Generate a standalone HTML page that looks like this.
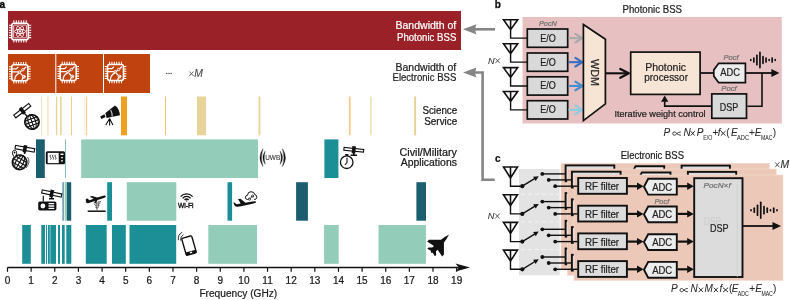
<!DOCTYPE html>
<html><head><meta charset="utf-8">
<style>
html,body{margin:0;padding:0;background:#fff;width:790px;height:300px;overflow:hidden}
svg{display:block;font-family:"Liberation Sans",sans-serif;will-change:transform}
</style></head><body>
<svg width="790" height="300" viewBox="0 0 790 300">
<defs>
<marker id="ah" markerWidth="6" markerHeight="6" refX="5" refY="3" orient="auto" markerUnits="strokeWidth"><path d="M0,0 L6,3 L0,6 L1.5,3 Z" fill="#000"/></marker>
</defs>
<!-- PANEL A -->
<text x="-0.4" y="7.8" font-size="10" font-weight="bold" stroke="#111" stroke-width="0.35">a</text>
<rect x="8" y="11" width="453" height="39" fill="#9a2128"/>
<rect x="8" y="54" width="47.3" height="39" fill="#c0420f"/>
<rect x="56.3" y="54" width="46.7" height="39" fill="#c0420f"/>
<rect x="104" y="54" width="46" height="39" fill="#c0420f"/>
<g font-size="10.5" text-anchor="end" stroke="#111" stroke-width="0.22">
<text x="456.3" y="28.8" fill="#fff" textLength="60.8" lengthAdjust="spacingAndGlyphs" stroke="#fff" stroke-width="0.22">Bandwidth of</text>
<text x="456.3" y="40.5" fill="#fff" textLength="59.3" lengthAdjust="spacingAndGlyphs" stroke="#fff" stroke-width="0.22">Photonic BSS</text>
<text x="456.3" y="70.5" fill="#222" textLength="60.8" lengthAdjust="spacingAndGlyphs" stroke="#222" stroke-width="0.22">Bandwidth of</text>
<text x="456.3" y="81.3" fill="#222" textLength="63.8" lengthAdjust="spacingAndGlyphs" stroke="#222" stroke-width="0.22">Electronic BSS</text>
</g>
<g font-size="10" text-anchor="end" fill="#222" stroke="#222" stroke-width="0.22">
<text x="457.2" y="113.6" textLength="34.8" lengthAdjust="spacingAndGlyphs" stroke="#111" stroke-width="0.22">Science</text>
<text x="457.2" y="125" textLength="32.9" lengthAdjust="spacingAndGlyphs" stroke="#111" stroke-width="0.22">Service</text>
<text x="456.9" y="156" textLength="57.4" lengthAdjust="spacingAndGlyphs" stroke="#111" stroke-width="0.22">Civil/Military</text>
<text x="456.9" y="166.4" textLength="56.2" lengthAdjust="spacingAndGlyphs" stroke="#111" stroke-width="0.22">Applications</text>
</g>
<g fill="#333"><circle cx="166.8" cy="73.4" r="0.7"/><circle cx="169" cy="73.4" r="0.7"/><circle cx="171.2" cy="73.4" r="0.7"/></g>
<path d="M189.3,71.5 L193.5,76 M193.5,71.5 L189.3,76" stroke="#555" stroke-width="0.9"/><text x="194.3" y="76.7" font-size="10.3" fill="#444" stroke="#444" stroke-width="0.1" font-style="italic" textLength="8.6" lengthAdjust="spacingAndGlyphs">M</text>

<!-- science row -->
<g>
<rect x="41" y="96.5" width="0.8" height="38.8" fill="#e8dcb0"/>
<rect x="47.4" y="96.5" width="1.1" height="38.8" fill="#fbd6aa"/>
<rect x="55.9" y="96.5" width="1.4" height="38.8" fill="#e6d49a"/>
<rect x="60.2" y="96.5" width="1.4" height="38.8" fill="#e2d090"/>
<rect x="71" y="96.5" width="0.8" height="38.8" fill="#f4c070"/>
<rect x="84.2" y="96.5" width="0.8" height="38.8" fill="#fdf0d8"/>
<rect x="86" y="96.5" width="1.1" height="38.8" fill="#f8cf8c"/>
<rect x="121" y="96.5" width="6" height="38.8" fill="#f0a020"/>
<rect x="165" y="96.5" width="0.8" height="38.8" fill="#f5b041"/>
<rect x="197" y="96.5" width="9" height="38.8" fill="#e6d49a"/>
<rect x="258.6" y="96.5" width="1.8" height="38.8" fill="#e6d49a"/>
<rect x="349" y="96.5" width="1.6" height="38.8" fill="#f7c880"/>
<rect x="370.2" y="96.5" width="1.4" height="38.8" fill="#eddcaa"/>
<rect x="414.2" y="96.5" width="1.9" height="38.8" fill="#e4d194"/>
</g>
<!-- row 4 -->
<g>
<rect x="36" y="139.4" width="8.8" height="38.6" fill="#1b5e70"/>
<rect x="65.3" y="139.4" width="0.7" height="38.6" fill="#5aa0b0"/>
<rect x="81.2" y="139.4" width="176.8" height="38.6" fill="#93cdb9"/>
<rect x="324.4" y="139.4" width="14" height="38.6" fill="#1b8f95"/>
</g>
<!-- row 5 -->
<g>
<rect x="62.4" y="182.2" width="1.4" height="38.5" fill="#5b90a6"/>
<rect x="64.7" y="182.2" width="2.3" height="38.5" fill="#93cdb9"/>
<rect x="67" y="182.2" width="4.2" height="38.5" fill="#1b5e70"/>
<rect x="107.2" y="182.2" width="4.8" height="38.5" fill="#1b8f95"/>
<rect x="126.8" y="182.2" width="49.5" height="38.5" fill="#93cdb9"/>
<rect x="227.5" y="182.2" width="4.6" height="38.5" fill="#1b8f95"/>
<rect x="296.1" y="182.2" width="11.8" height="38.5" fill="#1b5e70"/>
<rect x="416.4" y="182.2" width="9.6" height="38.5" fill="#1b5e70"/>
</g>
<!-- row 6 -->
<g fill="#1b8f95">
<rect x="22.2" y="225" width="8.6" height="38.8"/>
<rect x="41.3" y="225" width="3.7" height="38.8"/>
<rect x="46" y="225" width="1" height="38.8"/>
<rect x="47.9" y="225" width="1.9" height="38.8"/>
<rect x="50.3" y="225" width="5.7" height="38.8"/>
<rect x="58" y="225" width="2" height="38.8"/>
<rect x="62" y="225" width="2.7" height="38.8"/>
<rect x="66.3" y="225" width="5" height="38.8"/>
<rect x="85.8" y="225" width="20.9" height="38.8"/>
<rect x="112" y="225" width="13.8" height="38.8"/>
<rect x="129.5" y="225" width="46.7" height="38.8"/>
</g>
<g fill="#93cdb9">
<rect x="208.3" y="225" width="48.7" height="38.8"/>
<rect x="324.1" y="225" width="14.6" height="38.8"/>
<rect x="378.5" y="225" width="47.4" height="38.8"/>
</g>
<!-- axis -->
<g stroke="#111" stroke-width="1.3">
<line x1="7.5" y1="267.5" x2="460" y2="267.5" stroke-width="1.55"/>

</g>
<path d="M470,267.5 L455.5,263.5 L459,267.5 L455.5,271.5 Z" fill="#111"/>
<g id="tickg" stroke="#111" stroke-width="1.2"><line x1="7.50" y1="267.5" x2="7.50" y2="271.8"/><line x1="31.14" y1="267.5" x2="31.14" y2="271.8"/><line x1="54.78" y1="267.5" x2="54.78" y2="271.8"/><line x1="78.42" y1="267.5" x2="78.42" y2="271.8"/><line x1="102.06" y1="267.5" x2="102.06" y2="271.8"/><line x1="125.70" y1="267.5" x2="125.70" y2="271.8"/><line x1="149.34" y1="267.5" x2="149.34" y2="271.8"/><line x1="172.98" y1="267.5" x2="172.98" y2="271.8"/><line x1="196.62" y1="267.5" x2="196.62" y2="271.8"/><line x1="220.26" y1="267.5" x2="220.26" y2="271.8"/><line x1="243.90" y1="267.5" x2="243.90" y2="271.8"/><line x1="267.54" y1="267.5" x2="267.54" y2="271.8"/><line x1="291.18" y1="267.5" x2="291.18" y2="271.8"/><line x1="314.82" y1="267.5" x2="314.82" y2="271.8"/><line x1="338.46" y1="267.5" x2="338.46" y2="271.8"/><line x1="362.10" y1="267.5" x2="362.10" y2="271.8"/><line x1="385.74" y1="267.5" x2="385.74" y2="271.8"/><line x1="409.38" y1="267.5" x2="409.38" y2="271.8"/><line x1="433.02" y1="267.5" x2="433.02" y2="271.8"/><line x1="456.66" y1="267.5" x2="456.66" y2="271.8"/></g>
<g id="nums" font-size="10" fill="#222" stroke="#222" stroke-width="0.05" text-anchor="middle"><text x="7.50" y="283.6" stroke="#111" stroke-width="0.22">0</text><text x="31.14" y="283.6" stroke="#111" stroke-width="0.22">1</text><text x="54.78" y="283.6" stroke="#111" stroke-width="0.22">2</text><text x="78.42" y="283.6" stroke="#111" stroke-width="0.22">3</text><text x="102.06" y="283.6" stroke="#111" stroke-width="0.22">4</text><text x="125.70" y="283.6" stroke="#111" stroke-width="0.22">5</text><text x="149.34" y="283.6" stroke="#111" stroke-width="0.22">6</text><text x="172.98" y="283.6" stroke="#111" stroke-width="0.22">7</text><text x="196.62" y="283.6" stroke="#111" stroke-width="0.22">8</text><text x="220.26" y="283.6" stroke="#111" stroke-width="0.22">9</text><text x="243.90" y="283.6" stroke="#111" stroke-width="0.22">10</text><text x="267.54" y="283.6" stroke="#111" stroke-width="0.22">11</text><text x="291.18" y="283.6" stroke="#111" stroke-width="0.22">12</text><text x="314.82" y="283.6" stroke="#111" stroke-width="0.22">13</text><text x="338.46" y="283.6" stroke="#111" stroke-width="0.22">14</text><text x="362.10" y="283.6" stroke="#111" stroke-width="0.22">15</text><text x="385.74" y="283.6" stroke="#111" stroke-width="0.22">16</text><text x="409.38" y="283.6" stroke="#111" stroke-width="0.22">17</text><text x="433.02" y="283.6" stroke="#111" stroke-width="0.22">18</text><text x="456.66" y="283.6" stroke="#111" stroke-width="0.22">19</text></g>
<text x="199.4" y="297" font-size="10" fill="#222" textLength="77.8" lengthAdjust="spacingAndGlyphs" stroke="#222" stroke-width="0.22">Frequency (GHz)</text>


<!-- ICONS -->
<rect x="11.8" y="23.2" width="16.5" height="16.5" rx="2.27" fill="none" stroke="#fff" stroke-width="1.6"/><path d="M13.86,20.31v2.89M13.86,39.70v2.89M8.91,25.26h2.89M28.30,25.26h2.89M16.34,20.31v2.89M16.34,39.70v2.89M8.91,27.74h2.89M28.30,27.74h2.89M18.81,20.31v2.89M18.81,39.70v2.89M8.91,30.21h2.89M28.30,30.21h2.89M21.29,20.31v2.89M21.29,39.70v2.89M8.91,32.69h2.89M28.30,32.69h2.89M23.76,20.31v2.89M23.76,39.70v2.89M8.91,35.16h2.89M28.30,35.16h2.89M26.24,20.31v2.89M26.24,39.70v2.89M8.91,37.64h2.89M28.30,37.64h2.89" stroke="#fff" stroke-width="1.05" fill="none"/><rect x="13.66" y="25.06" width="12.79" height="12.79" rx="0.8" fill="none" stroke="#fff" stroke-width="0.8"/><ellipse cx="20.05" cy="31.45" rx="5.57" ry="2.17" transform="rotate(0 20.05 31.45)" fill="none" stroke="#fff" stroke-width="0.85"/><ellipse cx="20.05" cy="31.45" rx="5.57" ry="2.17" transform="rotate(60 20.05 31.45)" fill="none" stroke="#fff" stroke-width="0.85"/><ellipse cx="20.05" cy="31.45" rx="5.57" ry="2.17" transform="rotate(120 20.05 31.45)" fill="none" stroke="#fff" stroke-width="0.85"/><circle cx="20.05" cy="31.45" r="1.13" fill="#fff"/>
<rect x="11.8" y="64.7" width="16" height="16" rx="2.20" fill="none" stroke="#fff" stroke-width="1.6"/><path d="M13.80,61.90v2.80M13.80,80.70v2.80M9.00,66.70h2.80M27.80,66.70h2.80M16.20,61.90v2.80M16.20,80.70v2.80M9.00,69.10h2.80M27.80,69.10h2.80M18.60,61.90v2.80M18.60,80.70v2.80M9.00,71.50h2.80M27.80,71.50h2.80M21.00,61.90v2.80M21.00,80.70v2.80M9.00,73.90h2.80M27.80,73.90h2.80M23.40,61.90v2.80M23.40,80.70v2.80M9.00,76.30h2.80M27.80,76.30h2.80M25.80,61.90v2.80M25.80,80.70v2.80M9.00,78.70h2.80M27.80,78.70h2.80" stroke="#fff" stroke-width="1.05" fill="none"/><path d="M12.30,68.90 L16.30,68.90 L18.30,66.90M12.30,71.90 L18.40,71.90M20.40,71.90 L21.90,70.50M23.90,68.90 L26.30,66.70M19.40,73.10 Q15.00,74.70 14.60,80.20M20.40,73.30 L22.80,75.70M22.00,80.20 Q22.30,77.20 25.30,76.20" stroke="#fff" stroke-width="1.2" fill="none"/><circle cx="19.40" cy="72.00" r="1.20" fill="none" stroke="#fff" stroke-width="1"/><circle cx="22.90" cy="69.70" r="1.20" fill="none" stroke="#fff" stroke-width="1"/><circle cx="23.90" cy="76.80" r="1.40" fill="none" stroke="#fff" stroke-width="1"/>
<rect x="60.2" y="64.5" width="16" height="16" rx="2.20" fill="none" stroke="#fff" stroke-width="1.6"/><path d="M62.20,61.70v2.80M62.20,80.50v2.80M57.40,66.50h2.80M76.20,66.50h2.80M64.60,61.70v2.80M64.60,80.50v2.80M57.40,68.90h2.80M76.20,68.90h2.80M67.00,61.70v2.80M67.00,80.50v2.80M57.40,71.30h2.80M76.20,71.30h2.80M69.40,61.70v2.80M69.40,80.50v2.80M57.40,73.70h2.80M76.20,73.70h2.80M71.80,61.70v2.80M71.80,80.50v2.80M57.40,76.10h2.80M76.20,76.10h2.80M74.20,61.70v2.80M74.20,80.50v2.80M57.40,78.50h2.80M76.20,78.50h2.80" stroke="#fff" stroke-width="1.05" fill="none"/><path d="M60.70,68.70 L64.70,68.70 L66.70,66.70M60.70,71.70 L66.80,71.70M68.80,71.70 L70.30,70.30M72.30,68.70 L74.70,66.50M67.80,72.90 Q63.40,74.50 63.00,80.00M68.80,73.10 L71.20,75.50M70.40,80.00 Q70.70,77.00 73.70,76.00" stroke="#fff" stroke-width="1.2" fill="none"/><circle cx="67.80" cy="71.80" r="1.20" fill="none" stroke="#fff" stroke-width="1"/><circle cx="71.30" cy="69.50" r="1.20" fill="none" stroke="#fff" stroke-width="1"/><circle cx="72.30" cy="76.60" r="1.40" fill="none" stroke="#fff" stroke-width="1"/>
<rect x="107.5" y="64.5" width="16" height="16" rx="2.20" fill="none" stroke="#fff" stroke-width="1.6"/><path d="M109.50,61.70v2.80M109.50,80.50v2.80M104.70,66.50h2.80M123.50,66.50h2.80M111.90,61.70v2.80M111.90,80.50v2.80M104.70,68.90h2.80M123.50,68.90h2.80M114.30,61.70v2.80M114.30,80.50v2.80M104.70,71.30h2.80M123.50,71.30h2.80M116.70,61.70v2.80M116.70,80.50v2.80M104.70,73.70h2.80M123.50,73.70h2.80M119.10,61.70v2.80M119.10,80.50v2.80M104.70,76.10h2.80M123.50,76.10h2.80M121.50,61.70v2.80M121.50,80.50v2.80M104.70,78.50h2.80M123.50,78.50h2.80" stroke="#fff" stroke-width="1.05" fill="none"/><path d="M108.00,68.70 L112.00,68.70 L114.00,66.70M108.00,71.70 L114.10,71.70M116.10,71.70 L117.60,70.30M119.60,68.70 L122.00,66.50M115.10,72.90 Q110.70,74.50 110.30,80.00M116.10,73.10 L118.50,75.50M117.70,80.00 Q118.00,77.00 121.00,76.00" stroke="#fff" stroke-width="1.2" fill="none"/><circle cx="115.10" cy="71.80" r="1.20" fill="none" stroke="#fff" stroke-width="1"/><circle cx="118.60" cy="69.50" r="1.20" fill="none" stroke="#fff" stroke-width="1"/><circle cx="119.60" cy="76.60" r="1.40" fill="none" stroke="#fff" stroke-width="1"/>
<g transform="rotate(-38 22.3 110.7)"><rect x="12.8" y="109.0" width="19" height="3.4" fill="#fff" stroke="#111" stroke-width="1.1"/><rect x="20.5" y="107.10000000000001" width="3.6" height="7.2" fill="#111"/></g>
<line x1="24" y1="113" x2="27" y2="116" stroke="#111" stroke-width="1.3"/>
<g transform="rotate(-20 32 122)"><circle cx="32" cy="122" r="7.3" fill="#fff" stroke="#111" stroke-width="1.4"/><ellipse cx="32" cy="122" rx="3.65" ry="7.3" fill="none" stroke="#111" stroke-width="1.1"/><ellipse cx="32" cy="122" rx="6.21" ry="7.3" fill="none" stroke="#111" stroke-width="0.8"/><path d="M32,114.7V129.3M24.7,122H39.3M25.43,118.72H38.57M25.43,125.28H38.57" stroke="#111" stroke-width="1.1"/></g>
<path d="M100.2,116.4 L104.4,114.2 L105.6,117 L101.4,119.1 Z" fill="#111"/>
<path d="M105.4,112.9 L115,105.6 Q119.4,108.6 120,115.3 L106.6,117.9 Z" fill="#111"/>
<path d="M110.6,109.9 Q112.4,112.6 112.2,116.6" fill="none" stroke="#fff" stroke-width="0.9"/>
<path d="M109.6,118.5 L105.8,125 M109.6,118.5 L109.6,125.5 M109.6,118.5 L112.9,125" stroke="#111" stroke-width="1.1"/>
<g transform="rotate(10 24.9 148.8)"><rect x="15.149999999999999" y="147.10000000000002" width="19.5" height="3.4" fill="#fff" stroke="#111" stroke-width="1.1"/><rect x="23.099999999999998" y="145.20000000000002" width="3.6" height="7.2" fill="#111"/></g>
<line x1="24.9" y1="150" x2="24.5" y2="154" stroke="#111" stroke-width="1.5"/>
<g transform="rotate(30 19.6 162.3)"><circle cx="19.6" cy="162.3" r="7.4" fill="#fff" stroke="#111" stroke-width="1.4"/><ellipse cx="19.6" cy="162.3" rx="3.70" ry="7.4" fill="none" stroke="#111" stroke-width="1.1"/><ellipse cx="19.6" cy="162.3" rx="6.29" ry="7.4" fill="none" stroke="#111" stroke-width="0.8"/><path d="M19.6,154.9V169.70000000000002M12.200000000000001,162.3H27.0M12.94,158.97H26.26M12.94,165.63H26.26" stroke="#111" stroke-width="1.1"/></g>
<path d="M27.5,157 Q31,162 26,168" fill="none" stroke="#111" stroke-width="0.7"/>
<path d="M14.6,157.3 C11.8,154.5 11.8,150.3 14.6,150.3 C17.4,150.3 17.4,154.5 14.6,157.3 Z" fill="#fff" stroke="#111" stroke-width="1"/><circle cx="14.6" cy="152.5" r="0.9" fill="#111"/>
<rect x="45.8" y="151.2" width="19.2" height="13" rx="1.5" fill="#111"/>
<rect x="47.7" y="152.9" width="11" height="10.2" fill="#fff"/>
<path d="M50.5,154.8 q-1.2,1.2 0,2.4 t0,2.4 M53,154.8 q-1.2,1.2 0,2.4 t0,2.4 M55.5,154.8 q-1.2,1.2 0,2.4 t0,2.4" fill="none" stroke="#111" stroke-width="0.8"/>
<rect x="60.4" y="153.5" width="3.2" height="1.6" rx="0.6" fill="#fff"/><circle cx="62" cy="157.6" r="0.9" fill="#fff"/><circle cx="62" cy="160.8" r="0.9" fill="#fff"/>
<path d="M262.90,148.8 Q257.00,157.65 262.90,166.5 Q260.00,157.65 262.90,148.8 ZM265.20,151.2 Q260.60,157.7 265.20,164.2 Q263.20,157.7 265.20,151.2 ZM282.50,148.8 Q288.40,157.65 282.50,166.5 Q285.40,157.65 282.50,148.8 ZM280.20,151.2 Q284.80,157.7 280.20,164.2 Q282.20,157.7 280.20,151.2 Z" fill="#111" stroke="#111" stroke-width="0.35"/>
<text x="272.7" y="160.4" font-size="7.2" text-anchor="middle" fill="#333" stroke="#333" stroke-width="0.1" textLength="15" lengthAdjust="spacingAndGlyphs">UWB</text>
<g transform="rotate(6 353.8 149.8)"><rect x="343.90000000000003" y="148.4" width="19.8" height="2.8" fill="#fff" stroke="#111" stroke-width="1.1"/><rect x="352.0" y="146.20000000000002" width="3.6" height="7.2" fill="#111"/></g>
<path d="M353.8,150 V155 M350.6,155.2 H357" stroke="#111" stroke-width="1.6"/>
<circle cx="346.7" cy="162.2" r="6.3" fill="#fff" stroke="#111" stroke-width="1.3"/>
<path d="M345.2,154.8 H348.4 M346.8,155 V156.2" stroke="#111" stroke-width="1.5"/>
<path d="M347,157.8 V162.5 L344.8,165" fill="none" stroke="#111" stroke-width="1.1"/>
<g transform="rotate(12 51.7 193.5)"><rect x="41.7" y="191.9" width="20" height="3.2" fill="#fff" stroke="#111" stroke-width="1.1"/><rect x="49.900000000000006" y="189.9" width="3.6" height="7.2" fill="#111"/></g>
<path d="M51.5,194 V198.6 M49,198.8 H54" stroke="#111" stroke-width="1.5"/>
<line x1="43.3" y1="195.8" x2="43.3" y2="201.5" stroke="#111" stroke-width="1.2"/>
<rect x="38.2" y="201.4" width="18.2" height="9" rx="1.6" fill="#111"/>
<circle cx="42.9" cy="206" r="2.4" fill="#fff"/>
<path d="M48.5,203.6 H54.2 M48.5,206 H54.2 M48.5,208.4 H54.2" stroke="#fff" stroke-width="1.3"/>
<path d="M0,-1.2 L0.5,-3.3 L2.3,-3.3 L3.6,-1.2 L8.2,-1.2 L5,-4.4 L7.4,-4.4 L12,-1.3 L18.2,-1.2 Q20.6,-1 20.6,0 Q20.6,1 18.2,1.2 L11.4,1.3 L9.2,3.4 L7.8,3.4 L8.6,1.3 L2.2,1.3 Q0,1.3 0,0 Z" fill="#111" transform="translate(86.3,202.4) rotate(-18)"/>
<path d="M93.8,202.6 L100.8,201.6 L94.4,204.3 L100.1,203.6 L95,205.9 L99.4,205.5 L95.5,207.5 L98.6,207.3 L96,209.1 L97.9,209" fill="none" stroke="#3a3a3a" stroke-width="0.85" stroke-dasharray="1.3,0.6"/>
<line x1="87.7" y1="211.2" x2="105.7" y2="211.2" stroke="#111" stroke-width="1.5"/>
<path d="M180.6,196.6 A8,8 0 0 1 192.6,196.6 M182.6,198.3 A5.2,5.2 0 0 1 190.6,198.3 M184.6,200 A2.5,2.5 0 0 1 188.6,200" fill="none" stroke="#111" stroke-width="1.3"/>
<circle cx="186.6" cy="200.9" r="0.6" fill="#111"/>
<text x="185.8" y="207.7" font-size="7" text-anchor="middle" fill="#111" stroke="#111" stroke-width="0.35" textLength="15.5" lengthAdjust="spacingAndGlyphs">Wi-Fi</text>
<path d="M0,-1.4 L0.8,-1.4 L3.2,0.6 L7.2,0.2 L5,-4.4 L7.5,-4.4 L12,0 L19,-0.6 Q22.8,-0.8 22.8,0.3 Q22.6,1.3 19,1.8 L6,3.2 L3.2,3.2 Q0.6,3 0,-1.4 Z" fill="#111" transform="translate(233.5,204) rotate(-6)"/>
<path d="M248.2,199.5 L247.4,199.5 Q245.2,199.3 245.4,197.2 Q245.6,195.4 247.5,195.3 Q247.6,191.8 251,191.7 Q254.4,191.7 254.8,194.6 Q257,194.9 256.8,197.5 Q256.5,199.6 254.2,199.5" fill="none" stroke="#111" stroke-width="1"/>
<path d="M249.6,199 L252.6,196" stroke="#111" stroke-width="0.8"/><circle cx="249.5" cy="199.1" r="1.1" fill="none" stroke="#111" stroke-width="0.8"/><circle cx="252.6" cy="196.1" r="1.1" fill="none" stroke="#111" stroke-width="0.8"/>
<g transform="rotate(-16 189 245.5)"><rect x="183.8" y="236.7" width="10.4" height="17.8" rx="1.4" fill="#fff" stroke="#111" stroke-width="1.4"/><rect x="183.8" y="251.3" width="10.4" height="3.2" fill="#111"/><rect x="187.8" y="252.2" width="2.4" height="1.3" fill="#fff"/></g>
<path d="M180.6,240.5 Q180.4,236.4 183.4,234.6 M178.3,240.2 Q177.8,234.5 182.2,232.3" fill="none" stroke="#111" stroke-width="0.9"/>
<path d="M0,-14.8 L1.4,-9.5 L2,-5.5 L10.6,3 L10.6,5.6 L2.6,4 L2.6,6.3 L5.4,8.8 L5.4,10.6 L1.3,9.6 L0,10.8 L-1.3,9.6 L-5.4,10.6 L-5.4,8.8 L-2.6,6.3 L-2.6,4 L-10.6,5.6 L-10.6,3 L-2,-5.5 L-1.4,-9.5 Z" fill="#111" transform="translate(438.6,245) rotate(45)"/>
<!-- PANEL B -->
<text x="494.8" y="7.9" font-size="10" fill="#111" font-weight="bold" stroke="#111" stroke-width="0.3">b</text>
<text x="622.5" y="12.5" font-size="10.5" fill="#222" textLength="59.5" lengthAdjust="spacingAndGlyphs" stroke="#222" stroke-width="0.22">Photonic BSS</text>
<rect x="522.5" y="17" width="259.3" height="106.5" fill="#e7c1c1"/>
<line x1="495" y1="29.3" x2="472" y2="29.3" stroke="#858585" stroke-width="2.6"/>
<path d="M463,29.3 L476.5,24.2 Q474,29.3 476.5,34.4 Z" fill="#858585"/>
<polyline points="494.7,179.7 482.6,179.7 482.6,72.5 472,72.5" fill="none" stroke="#858585" stroke-width="2.6"/>
<path d="M463,72.5 L476.5,67.4 Q474,72.5 476.5,77.6 Z" fill="#858585"/>
<text x="488" y="63.5" font-size="9.5" fill="#333" stroke="#333" stroke-width="0.1" font-style="italic" textLength="6.6" lengthAdjust="spacingAndGlyphs">N</text><path d="M495.4,58.4 L499.8,63.2 M499.8,58.4 L495.4,63.2" stroke="#444" stroke-width="0.9"/>
<path d="M503.5,19.8 L517.7,19.8 L510.6,29.6 Z M510.6,19.8 L510.6,29.6" fill="none" stroke="#111" stroke-width="1.6" stroke-linejoin="miter"/>
<polyline points="510.6,29.6 510.6,38.15 527.3,38.15" fill="none" stroke="#111" stroke-width="1.4"/>
<rect x="527.3" y="29" width="40.4" height="18.3" fill="#d9d9d9" stroke="#111" stroke-width="1.7"/>
<text x="547.9" y="41.5" font-size="10.5" fill="#222" text-anchor="middle" textLength="15.5" lengthAdjust="spacingAndGlyphs" stroke="#222" stroke-width="0.22">E/O</text>
<line x1="568.5" y1="38.15" x2="582" y2="38.15" stroke="#a9a9a9" stroke-width="2.1"/>
<path d="M575.4,33.85 L582.3,38.15 L575.4,42.45" fill="none" stroke="#a9a9a9" stroke-width="2.2" stroke-linecap="round" stroke-linejoin="round"/>
<path d="M503.5,43.8 L517.7,43.8 L510.6,53.599999999999994 Z M510.6,43.8 L510.6,53.599999999999994" fill="none" stroke="#111" stroke-width="1.6" stroke-linejoin="miter"/>
<polyline points="510.6,53.599999999999994 510.6,62.15 527.3,62.15" fill="none" stroke="#111" stroke-width="1.4"/>
<rect x="527.3" y="53" width="40.4" height="18.3" fill="#d9d9d9" stroke="#111" stroke-width="1.7"/>
<text x="547.9" y="65.5" font-size="10.5" fill="#222" text-anchor="middle" textLength="15.5" lengthAdjust="spacingAndGlyphs" stroke="#222" stroke-width="0.22">E/O</text>
<line x1="568.5" y1="62.15" x2="582" y2="62.15" stroke="#3b6fc0" stroke-width="2.1"/>
<path d="M575.4,57.85 L582.3,62.15 L575.4,66.45" fill="none" stroke="#3b6fc0" stroke-width="2.2" stroke-linecap="round" stroke-linejoin="round"/>
<path d="M503.5,67.6 L517.7,67.6 L510.6,77.39999999999999 Z M510.6,67.6 L510.6,77.39999999999999" fill="none" stroke="#111" stroke-width="1.6" stroke-linejoin="miter"/>
<polyline points="510.6,77.39999999999999 510.6,85.95 527.3,85.95" fill="none" stroke="#111" stroke-width="1.4"/>
<rect x="527.3" y="76.8" width="40.4" height="18.3" fill="#d9d9d9" stroke="#111" stroke-width="1.7"/>
<text x="547.9" y="89.3" font-size="10.5" fill="#222" text-anchor="middle" textLength="15.5" lengthAdjust="spacingAndGlyphs" stroke="#222" stroke-width="0.22">E/O</text>
<line x1="568.5" y1="85.95" x2="582" y2="85.95" stroke="#4a8fd0" stroke-width="2.1"/>
<path d="M575.4,81.65 L582.3,85.95 L575.4,90.25" fill="none" stroke="#4a8fd0" stroke-width="2.2" stroke-linecap="round" stroke-linejoin="round"/>
<path d="M503.5,91.5 L517.7,91.5 L510.6,101.3 Z M510.6,91.5 L510.6,101.3" fill="none" stroke="#111" stroke-width="1.6" stroke-linejoin="miter"/>
<polyline points="510.6,101.3 510.6,109.85000000000001 527.3,109.85000000000001" fill="none" stroke="#111" stroke-width="1.4"/>
<rect x="527.3" y="100.7" width="40.4" height="18.3" fill="#d9d9d9" stroke="#111" stroke-width="1.7"/>
<text x="547.9" y="113.2" font-size="10.5" fill="#222" text-anchor="middle" textLength="15.5" lengthAdjust="spacingAndGlyphs" stroke="#222" stroke-width="0.22">E/O</text>
<line x1="568.5" y1="109.85000000000001" x2="582" y2="109.85000000000001" stroke="#8ccbe0" stroke-width="2.1"/>
<path d="M575.4,105.55 L582.3,109.85 L575.4,114.15" fill="none" stroke="#8ccbe0" stroke-width="2.2" stroke-linecap="round" stroke-linejoin="round"/>
<text x="539" y="25.6" font-size="7.2" fill="#707070" textLength="17.8" lengthAdjust="spacingAndGlyphs" font-style="italic" stroke="#707070" stroke-width="0.22">PocN</text>
<path d="M583.4,24.5 L605.4,39.2 L605.4,103.9 L583.4,120.6 Z" fill="#f6e4d4" stroke="#111" stroke-width="1.7"/>
<text transform="translate(591.3,72.5) rotate(90)" font-size="10.5" fill="#222" text-anchor="middle" textLength="27" lengthAdjust="spacingAndGlyphs" stroke="#222" stroke-width="0.22">WDM</text>
<line x1="605.4" y1="73.3" x2="628.5" y2="73.3" stroke="#111" stroke-width="2.1"/>
<path d="M620.3,68.9 L628.8,73.3 L620.3,77.7" fill="none" stroke="#111" stroke-width="2.3" stroke-linecap="round" stroke-linejoin="round"/>
<rect x="630.7" y="52.1" width="69.4" height="42.3" fill="#f6e4d4" stroke="#111" stroke-width="1.7"/>
<text x="665.6" y="70.7" font-size="11" fill="#222" text-anchor="middle" textLength="40.9" lengthAdjust="spacingAndGlyphs" stroke="#222" stroke-width="0.22">Photonic</text>
<text x="666.1" y="80.8" font-size="11" fill="#222" text-anchor="middle" textLength="43.7" lengthAdjust="spacingAndGlyphs" stroke="#222" stroke-width="0.22">processor</text>
<line x1="700.8" y1="73" x2="714" y2="73" stroke="#111" stroke-width="1.8"/>
<path d="M718.6999999999999,63.3 L745.4,63.3 L745.4,82.7 L718.6999999999999,82.7 L713.8,76.10000000000001 L713.8,69.89999999999999 Z" fill="#ececec" stroke="#111" stroke-width="1.7" stroke-linejoin="miter"/>
<text x="730.2" y="76.3" font-size="11" fill="#222" text-anchor="middle" textLength="19.7" lengthAdjust="spacingAndGlyphs" stroke="#222" stroke-width="0.22">ADC</text>
<text x="723.4" y="60.4" font-size="7.4" fill="#707070" textLength="15.2" lengthAdjust="spacingAndGlyphs" font-style="italic" stroke="#707070" stroke-width="0.22">Pocf</text>
<line x1="745.3" y1="73" x2="773" y2="73" stroke="#111" stroke-width="1.8"/>
<path d="M779.4,73 L771.4,69 L771.4,77 Z" fill="#111"/>
<polyline points="762,73 762,106.2 747.4,106.2" fill="none" stroke="#111" stroke-width="1.6"/>
<rect x="711.8" y="93.9" width="34.7" height="24.4" fill="#d9d9d9" stroke="#111" stroke-width="1.7"/>
<text x="729" y="110.8" font-size="11" fill="#222" text-anchor="middle" textLength="18.5" lengthAdjust="spacingAndGlyphs" stroke="#222" stroke-width="0.22">DSP</text>
<text x="721.3" y="90.8" font-size="7.4" fill="#707070" textLength="15.4" lengthAdjust="spacingAndGlyphs" font-style="italic" stroke="#707070" stroke-width="0.22">Pocf</text>
<polyline points="711.2,106.1 664.7,106.1 664.7,101" fill="none" stroke="#111" stroke-width="1.6"/>
<path d="M664.7,95.5 L661.1,101.8 L668.3000000000001,101.8 Z" fill="#111"/>
<text x="614.4" y="117" font-size="9.5" fill="#222" textLength="91.2" lengthAdjust="spacingAndGlyphs" stroke="#222" stroke-width="0.22">Iterative weight control</text>
<line x1="750.80" y1="59.65" x2="750.80" y2="60.35" stroke="#111" stroke-width="1.7" stroke-linecap="round"/><line x1="753.85" y1="58.05" x2="753.85" y2="61.95" stroke="#111" stroke-width="1.7" stroke-linecap="round"/><line x1="756.90" y1="55.25" x2="756.90" y2="64.75" stroke="#111" stroke-width="1.7" stroke-linecap="round"/><line x1="759.95" y1="52.45" x2="759.95" y2="67.55" stroke="#111" stroke-width="1.7" stroke-linecap="round"/><line x1="763.00" y1="56.65" x2="763.00" y2="63.35" stroke="#111" stroke-width="1.7" stroke-linecap="round"/><line x1="766.05" y1="58.05" x2="766.05" y2="61.95" stroke="#111" stroke-width="1.7" stroke-linecap="round"/><line x1="769.10" y1="59.65" x2="769.10" y2="60.35" stroke="#111" stroke-width="1.7" stroke-linecap="round"/><line x1="772.15" y1="58.05" x2="772.15" y2="61.95" stroke="#111" stroke-width="1.7" stroke-linecap="round"/><line x1="775.20" y1="59.65" x2="775.20" y2="60.35" stroke="#111" stroke-width="1.7" stroke-linecap="round"/>
<text x="666.90" y="135.8" font-size="10" fill="#2a2a2a" stroke="#2a2a2a" stroke-width="0.06" font-style="italic" text-anchor="middle">P</text><path d="M680.90,131.92 C677.12,131.92 676.28,135.28 674.18,135.28 C672.25,135.28 672.25,131.92 674.18,131.92 C676.28,131.92 677.12,135.28 680.90,135.28" fill="none" stroke="#2a2a2a" stroke-width="0.9"/><text x="687.10" y="135.8" font-size="10" fill="#2a2a2a" stroke="#2a2a2a" stroke-width="0.06" font-style="italic" text-anchor="middle">N</text><path d="M690.70,131.20 L694.70,135.60 M694.70,131.20 L690.70,135.60" stroke="#2a2a2a" stroke-width="1"/><text x="700.10" y="135.8" font-size="10" fill="#2a2a2a" stroke="#2a2a2a" stroke-width="0.06" font-style="italic" text-anchor="middle">P</text><text x="703.3" y="139.5" font-size="6.8" fill="#2a2a2a" stroke="#2a2a2a" stroke-width="0.05" textLength="9.10" lengthAdjust="spacingAndGlyphs">E/O</text><text x="715.30" y="135.8" font-size="10" fill="#2a2a2a" stroke="#2a2a2a" stroke-width="0.06" text-anchor="middle">+</text><text x="719.20" y="135.8" font-size="10" fill="#2a2a2a" stroke="#2a2a2a" stroke-width="0.06" font-style="italic" text-anchor="middle">f</text><path d="M720.90,131.20 L725.50,135.60 M725.50,131.20 L720.90,135.60" stroke="#2a2a2a" stroke-width="1"/><text x="727.90" y="135.8" font-size="10" fill="#2a2a2a" stroke="#2a2a2a" stroke-width="0.06" text-anchor="middle">(</text><text x="734.25" y="135.8" font-size="10" fill="#2a2a2a" stroke="#2a2a2a" stroke-width="0.06" font-style="italic" text-anchor="middle">E</text><text x="737" y="139.5" font-size="6.8" fill="#2a2a2a" stroke="#2a2a2a" stroke-width="0.05" textLength="12.00" lengthAdjust="spacingAndGlyphs">ADC</text><text x="751.85" y="135.8" font-size="10" fill="#2a2a2a" stroke="#2a2a2a" stroke-width="0.06" text-anchor="middle">+</text><text x="758.10" y="135.8" font-size="10" fill="#2a2a2a" stroke="#2a2a2a" stroke-width="0.06" font-style="italic" text-anchor="middle">E</text><text x="760.9" y="139.5" font-size="6.8" fill="#2a2a2a" stroke="#2a2a2a" stroke-width="0.05" textLength="11.50" lengthAdjust="spacingAndGlyphs">MAC</text><text x="774.40" y="135.8" font-size="10" fill="#2a2a2a" stroke="#2a2a2a" stroke-width="0.06" text-anchor="middle">)</text>
<!-- PANEL C -->
<text x="495" y="161.8" font-size="10" fill="#111" font-weight="bold" stroke="#111" stroke-width="0.22">c</text>
<text x="620.7" y="158.6" font-size="10.5" fill="#222" textLength="63.3" lengthAdjust="spacingAndGlyphs" stroke="#222" stroke-width="0.22">Electronic BSS</text>
<text x="487.8" y="218.8" font-size="9.5" fill="#333" stroke="#333" stroke-width="0.1" font-style="italic" textLength="6.6" lengthAdjust="spacingAndGlyphs">N</text><path d="M495.2,213.7 L499.6,218.5 M499.6,213.7 L495.2,218.5" stroke="#444" stroke-width="0.9"/>
<path d="M775.2,162.4 L779.4,167.2 M779.4,162.4 L775.2,167.2" stroke="#444" stroke-width="0.9"/><text x="780.6" y="167.7" font-size="10.3" fill="#333" stroke="#333" stroke-width="0.15" font-style="italic" textLength="8.6" lengthAdjust="spacingAndGlyphs">M</text>
<rect x="561" y="163.3" width="208.60000000000002" height="105.5" fill="#ebc8b7" stroke="#f6ddd0" stroke-width="0.6"/>
<rect x="565.60" y="165.40" width="48.7" height="15.8" fill="#dcdcdc" stroke="#111" stroke-width="1.9"/>
<path d="M635.6,166.20000000000002 L664.1999999999999,166.20000000000002 L664.1999999999999,182.0 L635.6,182.0 L631.4,174.1 L631.4,174.10000000000002 Z" fill="#ececec" stroke="#111" stroke-width="1.9" stroke-linejoin="miter"/>
<line x1="614.4" y1="173.6" x2="625.4" y2="173.6" stroke="#111" stroke-width="2.2"/>
<path d="M631.0,173.6 L624.4,169.9 L624.4,177.29999999999998 Z" fill="#111"/>
<line x1="664.9" y1="173.6" x2="675.4" y2="173.6" stroke="#111" stroke-width="2.2"/>
<path d="M681.1999999999999,173.6 L674.5999999999999,169.9 L674.5999999999999,177.29999999999998 Z" fill="#111"/>
<rect x="565.60" y="193.10" width="48.7" height="15.8" fill="#dcdcdc" stroke="#111" stroke-width="1.9"/>
<path d="M635.6,193.9 L664.1999999999999,193.9 L664.1999999999999,209.7 L635.6,209.7 L631.4,201.79999999999998 L631.4,201.8 Z" fill="#ececec" stroke="#111" stroke-width="1.9" stroke-linejoin="miter"/>
<line x1="614.4" y1="201.29999999999998" x2="625.4" y2="201.29999999999998" stroke="#111" stroke-width="2.2"/>
<path d="M631.0,201.29999999999998 L624.4,197.6 L624.4,204.99999999999997 Z" fill="#111"/>
<line x1="664.9" y1="201.29999999999998" x2="675.4" y2="201.29999999999998" stroke="#111" stroke-width="2.2"/>
<path d="M681.1999999999999,201.29999999999998 L674.5999999999999,197.6 L674.5999999999999,204.99999999999997 Z" fill="#111"/>
<rect x="565.60" y="220.80" width="48.7" height="15.8" fill="#dcdcdc" stroke="#111" stroke-width="1.9"/>
<path d="M635.6,221.60000000000002 L664.1999999999999,221.60000000000002 L664.1999999999999,237.4 L635.6,237.4 L631.4,229.5 L631.4,229.50000000000003 Z" fill="#ececec" stroke="#111" stroke-width="1.9" stroke-linejoin="miter"/>
<line x1="614.4" y1="229.0" x2="625.4" y2="229.0" stroke="#111" stroke-width="2.2"/>
<path d="M631.0,229.0 L624.4,225.3 L624.4,232.7 Z" fill="#111"/>
<line x1="664.9" y1="229.0" x2="675.4" y2="229.0" stroke="#111" stroke-width="2.2"/>
<path d="M681.1999999999999,229.0 L674.5999999999999,225.3 L674.5999999999999,232.7 Z" fill="#111"/>
<rect x="565.60" y="248.50" width="48.7" height="15.8" fill="#dcdcdc" stroke="#111" stroke-width="1.9"/>
<path d="M635.6,249.30000000000004 L664.1999999999999,249.30000000000004 L664.1999999999999,265.1 L635.6,265.1 L631.4,257.20000000000005 L631.4,257.20000000000005 Z" fill="#ececec" stroke="#111" stroke-width="1.9" stroke-linejoin="miter"/>
<line x1="614.4" y1="256.7" x2="625.4" y2="256.7" stroke="#111" stroke-width="2.2"/>
<path d="M631.0,256.7 L624.4,253.0 L624.4,260.4 Z" fill="#111"/>
<line x1="664.9" y1="256.7" x2="675.4" y2="256.7" stroke="#111" stroke-width="2.2"/>
<path d="M681.1999999999999,256.7 L674.5999999999999,253.0 L674.5999999999999,260.4 Z" fill="#111"/>
<rect x="681.6" y="165.6" width="48.3" height="98.8" fill="#dcdcdc" stroke="#111" stroke-width="1.9"/>
<rect x="567.5" y="169" width="208.79999999999995" height="106.30000000000001" fill="#ebc8b7" stroke="#f6ddd0" stroke-width="0.6"/>
<rect x="571.90" y="171.70" width="48.7" height="15.8" fill="#dcdcdc" stroke="#111" stroke-width="1.9"/>
<path d="M641.9000000000001,172.5 L670.5,172.5 L670.5,188.29999999999998 L641.9000000000001,188.29999999999998 L637.7,180.39999999999998 L637.7,180.4 Z" fill="#ececec" stroke="#111" stroke-width="1.9" stroke-linejoin="miter"/>
<line x1="620.7" y1="179.89999999999998" x2="631.7" y2="179.89999999999998" stroke="#111" stroke-width="2.2"/>
<path d="M637.3000000000001,179.89999999999998 L630.7,176.2 L630.7,183.59999999999997 Z" fill="#111"/>
<line x1="671.2" y1="179.89999999999998" x2="681.7" y2="179.89999999999998" stroke="#111" stroke-width="2.2"/>
<path d="M687.5,179.89999999999998 L680.9,176.2 L680.9,183.59999999999997 Z" fill="#111"/>
<rect x="571.90" y="199.40" width="48.7" height="15.8" fill="#dcdcdc" stroke="#111" stroke-width="1.9"/>
<path d="M641.9000000000001,200.2 L670.5,200.2 L670.5,215.99999999999997 L641.9000000000001,215.99999999999997 L637.7,208.09999999999997 L637.7,208.1 Z" fill="#ececec" stroke="#111" stroke-width="1.9" stroke-linejoin="miter"/>
<line x1="620.7" y1="207.59999999999997" x2="631.7" y2="207.59999999999997" stroke="#111" stroke-width="2.2"/>
<path d="M637.3000000000001,207.59999999999997 L630.7,203.89999999999998 L630.7,211.29999999999995 Z" fill="#111"/>
<line x1="671.2" y1="207.59999999999997" x2="681.7" y2="207.59999999999997" stroke="#111" stroke-width="2.2"/>
<path d="M687.5,207.59999999999997 L680.9,203.89999999999998 L680.9,211.29999999999995 Z" fill="#111"/>
<rect x="571.90" y="227.10" width="48.7" height="15.8" fill="#dcdcdc" stroke="#111" stroke-width="1.9"/>
<path d="M641.9000000000001,227.9 L670.5,227.9 L670.5,243.7 L641.9000000000001,243.7 L637.7,235.79999999999998 L637.7,235.8 Z" fill="#ececec" stroke="#111" stroke-width="1.9" stroke-linejoin="miter"/>
<line x1="620.7" y1="235.29999999999998" x2="631.7" y2="235.29999999999998" stroke="#111" stroke-width="2.2"/>
<path d="M637.3000000000001,235.29999999999998 L630.7,231.6 L630.7,238.99999999999997 Z" fill="#111"/>
<line x1="671.2" y1="235.29999999999998" x2="681.7" y2="235.29999999999998" stroke="#111" stroke-width="2.2"/>
<path d="M687.5,235.29999999999998 L680.9,231.6 L680.9,238.99999999999997 Z" fill="#111"/>
<rect x="571.90" y="254.80" width="48.7" height="15.8" fill="#dcdcdc" stroke="#111" stroke-width="1.9"/>
<path d="M641.9000000000001,255.60000000000002 L670.5,255.60000000000002 L670.5,271.40000000000003 L641.9000000000001,271.40000000000003 L637.7,263.50000000000006 L637.7,263.5 Z" fill="#ececec" stroke="#111" stroke-width="1.9" stroke-linejoin="miter"/>
<line x1="620.7" y1="263.0" x2="631.7" y2="263.0" stroke="#111" stroke-width="2.2"/>
<path d="M637.3000000000001,263.0 L630.7,259.3 L630.7,266.7 Z" fill="#111"/>
<line x1="671.2" y1="263.0" x2="681.7" y2="263.0" stroke="#111" stroke-width="2.2"/>
<path d="M687.5,263.0 L680.9,259.3 L680.9,266.7 Z" fill="#111"/>
<rect x="687.9000000000001" y="171.89999999999998" width="48.3" height="98.8" fill="#dcdcdc" stroke="#111" stroke-width="1.9"/>
<rect x="574" y="175" width="209" height="105.5" fill="#ebc8b7" stroke="#f6ddd0" stroke-width="0.6"/>
<rect x="578.20" y="178.00" width="48.7" height="15.8" fill="#dcdcdc" stroke="#111" stroke-width="1.9"/>
<path d="M648.2,178.8 L676.8,178.8 L676.8,194.6 L648.2,194.6 L644,186.7 L644,186.70000000000002 Z" fill="#ececec" stroke="#111" stroke-width="1.9" stroke-linejoin="miter"/>
<text x="602.1" y="190.1" font-size="10.5" fill="#222" text-anchor="middle" textLength="34" lengthAdjust="spacingAndGlyphs" stroke="#222" stroke-width="0.22">RF filter</text>
<text x="662.2" y="190.5" font-size="10.5" fill="#222" text-anchor="middle" textLength="20" lengthAdjust="spacingAndGlyphs" stroke="#222" stroke-width="0.22">ADC</text>
<line x1="627" y1="186.2" x2="638" y2="186.2" stroke="#111" stroke-width="2.2"/>
<path d="M643.6,186.2 L637.0,182.5 L637.0,189.89999999999998 Z" fill="#111"/>
<line x1="677.5" y1="186.2" x2="688" y2="186.2" stroke="#111" stroke-width="2.2"/>
<path d="M693.8,186.2 L687.1999999999999,182.5 L687.1999999999999,189.89999999999998 Z" fill="#111"/>
<rect x="578.20" y="205.70" width="48.7" height="15.8" fill="#dcdcdc" stroke="#111" stroke-width="1.9"/>
<path d="M648.2,206.5 L676.8,206.5 L676.8,222.29999999999998 L648.2,222.29999999999998 L644,214.39999999999998 L644,214.4 Z" fill="#ececec" stroke="#111" stroke-width="1.9" stroke-linejoin="miter"/>
<text x="602.1" y="217.79999999999998" font-size="10.5" fill="#222" text-anchor="middle" textLength="34" lengthAdjust="spacingAndGlyphs" stroke="#222" stroke-width="0.22">RF filter</text>
<text x="662.2" y="218.2" font-size="10.5" fill="#222" text-anchor="middle" textLength="20" lengthAdjust="spacingAndGlyphs" stroke="#222" stroke-width="0.22">ADC</text>
<line x1="627" y1="213.89999999999998" x2="638" y2="213.89999999999998" stroke="#111" stroke-width="2.2"/>
<path d="M643.6,213.89999999999998 L637.0,210.2 L637.0,217.59999999999997 Z" fill="#111"/>
<line x1="677.5" y1="213.89999999999998" x2="688" y2="213.89999999999998" stroke="#111" stroke-width="2.2"/>
<path d="M693.8,213.89999999999998 L687.1999999999999,210.2 L687.1999999999999,217.59999999999997 Z" fill="#111"/>
<rect x="578.20" y="233.40" width="48.7" height="15.8" fill="#dcdcdc" stroke="#111" stroke-width="1.9"/>
<path d="M648.2,234.20000000000002 L676.8,234.20000000000002 L676.8,250.0 L648.2,250.0 L644,242.1 L644,242.10000000000002 Z" fill="#ececec" stroke="#111" stroke-width="1.9" stroke-linejoin="miter"/>
<text x="602.1" y="245.5" font-size="10.5" fill="#222" text-anchor="middle" textLength="34" lengthAdjust="spacingAndGlyphs" stroke="#222" stroke-width="0.22">RF filter</text>
<text x="662.2" y="245.9" font-size="10.5" fill="#222" text-anchor="middle" textLength="20" lengthAdjust="spacingAndGlyphs" stroke="#222" stroke-width="0.22">ADC</text>
<line x1="627" y1="241.6" x2="638" y2="241.6" stroke="#111" stroke-width="2.2"/>
<path d="M643.6,241.6 L637.0,237.9 L637.0,245.29999999999998 Z" fill="#111"/>
<line x1="677.5" y1="241.6" x2="688" y2="241.6" stroke="#111" stroke-width="2.2"/>
<path d="M693.8,241.6 L687.1999999999999,237.9 L687.1999999999999,245.29999999999998 Z" fill="#111"/>
<rect x="578.20" y="261.10" width="48.7" height="15.8" fill="#dcdcdc" stroke="#111" stroke-width="1.9"/>
<path d="M648.2,261.90000000000003 L676.8,261.90000000000003 L676.8,277.70000000000005 L648.2,277.70000000000005 L644,269.80000000000007 L644,269.8 Z" fill="#ececec" stroke="#111" stroke-width="1.9" stroke-linejoin="miter"/>
<text x="602.1" y="273.20000000000005" font-size="10.5" fill="#222" text-anchor="middle" textLength="34" lengthAdjust="spacingAndGlyphs" stroke="#222" stroke-width="0.22">RF filter</text>
<text x="662.2" y="273.6" font-size="10.5" fill="#222" text-anchor="middle" textLength="20" lengthAdjust="spacingAndGlyphs" stroke="#222" stroke-width="0.22">ADC</text>
<line x1="627" y1="269.3" x2="638" y2="269.3" stroke="#111" stroke-width="2.2"/>
<path d="M643.6,269.3 L637.0,265.6 L637.0,273.0 Z" fill="#111"/>
<line x1="677.5" y1="269.3" x2="688" y2="269.3" stroke="#111" stroke-width="2.2"/>
<path d="M693.8,269.3 L687.1999999999999,265.6 L687.1999999999999,273.0 Z" fill="#111"/>
<rect x="694.2" y="178.2" width="48.3" height="98.8" fill="#dcdcdc" stroke="#111" stroke-width="1.9"/>
<rect x="519" y="169" width="40.6" height="106.3" fill="#e3e3e3"/>
<line x1="521" y1="194.2" x2="559" y2="194.2" stroke="#f5f5f5" stroke-width="1" stroke-dasharray="4,3"/>
<line x1="521" y1="221.9" x2="559" y2="221.9" stroke="#f5f5f5" stroke-width="1" stroke-dasharray="4,3"/>
<line x1="521" y1="249.6" x2="559" y2="249.6" stroke="#f5f5f5" stroke-width="1" stroke-dasharray="4,3"/>
<path d="M503.5,167.0 L517.5,167.0 L510.5,178.0 Z M510.5,167.0 L510.5,178.0" fill="none" stroke="#111" stroke-width="1.6" stroke-linejoin="miter"/>
<polyline points="510.5,178.0 510.5,186.2 522.3,186.2" fill="none" stroke="#111" stroke-width="1.4"/>
<line x1="542.3" y1="173.89999999999998" x2="564.9" y2="173.89999999999998" stroke="#111" stroke-width="1.4"/>
<circle cx="542.3" cy="173.89999999999998" r="1.9" fill="#111"/>
<line x1="548.7" y1="179.89999999999998" x2="571.2" y2="179.89999999999998" stroke="#111" stroke-width="1.4"/>
<circle cx="548.7" cy="179.89999999999998" r="1.9" fill="#111"/>
<line x1="555.2" y1="186.2" x2="577.5" y2="186.2" stroke="#111" stroke-width="1.4"/>
<circle cx="555.2" cy="186.2" r="1.9" fill="#111"/>
<circle cx="522.3" cy="186.2" r="2.1" fill="#111"/>
<line x1="522.3" y1="186.2" x2="535" y2="178.39999999999998" stroke="#111" stroke-width="1.4"/>
<path transform="rotate(-31 538.7 176.2)" d="M538.7,176.2 L533.7,173.7 L533.7,178.7 Z" fill="#111"/>
<path d="M503.5,194.7 L517.5,194.7 L510.5,205.7 Z M510.5,194.7 L510.5,205.7" fill="none" stroke="#111" stroke-width="1.6" stroke-linejoin="miter"/>
<polyline points="510.5,205.7 510.5,213.89999999999998 522.3,213.89999999999998" fill="none" stroke="#111" stroke-width="1.4"/>
<line x1="542.3" y1="201.59999999999997" x2="564.9" y2="201.59999999999997" stroke="#111" stroke-width="1.4"/>
<circle cx="542.3" cy="201.59999999999997" r="1.9" fill="#111"/>
<line x1="548.7" y1="207.59999999999997" x2="571.2" y2="207.59999999999997" stroke="#111" stroke-width="1.4"/>
<circle cx="548.7" cy="207.59999999999997" r="1.9" fill="#111"/>
<line x1="555.2" y1="213.89999999999998" x2="577.5" y2="213.89999999999998" stroke="#111" stroke-width="1.4"/>
<circle cx="555.2" cy="213.89999999999998" r="1.9" fill="#111"/>
<circle cx="522.3" cy="213.89999999999998" r="2.1" fill="#111"/>
<line x1="522.3" y1="213.89999999999998" x2="535" y2="206.09999999999997" stroke="#111" stroke-width="1.4"/>
<path transform="rotate(-31 538.7 203.89999999999998)" d="M538.7,203.89999999999998 L533.7,201.39999999999998 L533.7,206.39999999999998 Z" fill="#111"/>
<path d="M503.5,222.4 L517.5,222.4 L510.5,233.4 Z M510.5,222.4 L510.5,233.4" fill="none" stroke="#111" stroke-width="1.6" stroke-linejoin="miter"/>
<polyline points="510.5,233.4 510.5,241.6 522.3,241.6" fill="none" stroke="#111" stroke-width="1.4"/>
<line x1="542.3" y1="229.29999999999998" x2="564.9" y2="229.29999999999998" stroke="#111" stroke-width="1.4"/>
<circle cx="542.3" cy="229.29999999999998" r="1.9" fill="#111"/>
<line x1="548.7" y1="235.29999999999998" x2="571.2" y2="235.29999999999998" stroke="#111" stroke-width="1.4"/>
<circle cx="548.7" cy="235.29999999999998" r="1.9" fill="#111"/>
<line x1="555.2" y1="241.6" x2="577.5" y2="241.6" stroke="#111" stroke-width="1.4"/>
<circle cx="555.2" cy="241.6" r="1.9" fill="#111"/>
<circle cx="522.3" cy="241.6" r="2.1" fill="#111"/>
<line x1="522.3" y1="241.6" x2="535" y2="233.79999999999998" stroke="#111" stroke-width="1.4"/>
<path transform="rotate(-31 538.7 231.6)" d="M538.7,231.6 L533.7,229.1 L533.7,234.1 Z" fill="#111"/>
<path d="M503.5,250.10000000000002 L517.5,250.10000000000002 L510.5,261.1 Z M510.5,250.10000000000002 L510.5,261.1" fill="none" stroke="#111" stroke-width="1.6" stroke-linejoin="miter"/>
<polyline points="510.5,261.1 510.5,269.3 522.3,269.3" fill="none" stroke="#111" stroke-width="1.4"/>
<line x1="542.3" y1="257.0" x2="564.9" y2="257.0" stroke="#111" stroke-width="1.4"/>
<circle cx="542.3" cy="257.0" r="1.9" fill="#111"/>
<line x1="548.7" y1="263.0" x2="571.2" y2="263.0" stroke="#111" stroke-width="1.4"/>
<circle cx="548.7" cy="263.0" r="1.9" fill="#111"/>
<line x1="555.2" y1="269.3" x2="577.5" y2="269.3" stroke="#111" stroke-width="1.4"/>
<circle cx="555.2" cy="269.3" r="1.9" fill="#111"/>
<circle cx="522.3" cy="269.3" r="2.1" fill="#111"/>
<line x1="522.3" y1="269.3" x2="535" y2="261.5" stroke="#111" stroke-width="1.4"/>
<path transform="rotate(-31 538.7 259.3)" d="M538.7,259.3 L533.7,256.8 L533.7,261.8 Z" fill="#111"/>
<text x="712.6" y="225" font-size="10" fill="#cdcdcd" text-anchor="middle" textLength="17" lengthAdjust="spacingAndGlyphs" stroke="#cdcdcd" stroke-width="0.22">DSP</text>
<line x1="737.3" y1="184" x2="737.3" y2="277" stroke="#cfcfcf" stroke-width="0.8"/>
<text x="719.2" y="231.5" font-size="11.2" fill="#222" text-anchor="middle" textLength="18.6" lengthAdjust="spacingAndGlyphs" stroke="#222" stroke-width="0.22">DSP</text>
<text x="703.5" y="187.5" font-size="7.4" fill="#707070" textLength="27.2" lengthAdjust="spacingAndGlyphs" font-style="italic" stroke="#707070" stroke-width="0.22">PocN×f</text>
<text x="654.4" y="203.5" font-size="7.4" fill="#707070" textLength="14.9" lengthAdjust="spacingAndGlyphs" font-style="italic" stroke="#707070" stroke-width="0.22">Pocf</text>
<line x1="742.5" y1="226" x2="773" y2="226" stroke="#111" stroke-width="1.8"/>
<path d="M781,226 L772.5,222 L772.5,230 Z" fill="#111"/>
<line x1="751.00" y1="209.80" x2="751.00" y2="210.60" stroke="#111" stroke-width="1.7" stroke-linecap="round"/><line x1="754.25" y1="208.14" x2="754.25" y2="212.26" stroke="#111" stroke-width="1.7" stroke-linecap="round"/><line x1="757.50" y1="205.23" x2="757.50" y2="215.17" stroke="#111" stroke-width="1.7" stroke-linecap="round"/><line x1="760.75" y1="202.31" x2="760.75" y2="218.09" stroke="#111" stroke-width="1.7" stroke-linecap="round"/><line x1="764.00" y1="206.68" x2="764.00" y2="213.72" stroke="#111" stroke-width="1.7" stroke-linecap="round"/><line x1="767.25" y1="208.14" x2="767.25" y2="212.26" stroke="#111" stroke-width="1.7" stroke-linecap="round"/><line x1="770.50" y1="209.80" x2="770.50" y2="210.60" stroke="#111" stroke-width="1.7" stroke-linecap="round"/><line x1="773.75" y1="208.14" x2="773.75" y2="212.26" stroke="#111" stroke-width="1.7" stroke-linecap="round"/><line x1="777.00" y1="209.80" x2="777.00" y2="210.60" stroke="#111" stroke-width="1.7" stroke-linecap="round"/>
<text x="674.35" y="292.3" font-size="10" fill="#2a2a2a" stroke="#2a2a2a" stroke-width="0.06" font-style="italic" text-anchor="middle">P</text><path d="M687.80,288.42 C684.20,288.42 683.40,291.78 681.40,291.78 C679.56,291.78 679.56,288.42 681.40,288.42 C683.40,288.42 684.20,291.78 687.80,291.78" fill="none" stroke="#2a2a2a" stroke-width="0.9"/><text x="694.10" y="292.3" font-size="10" fill="#2a2a2a" stroke="#2a2a2a" stroke-width="0.06" font-style="italic" text-anchor="middle">N</text><path d="M698.70,287.70 L703.00,292.10 M703.00,287.70 L698.70,292.10" stroke="#2a2a2a" stroke-width="1"/><text x="708.55" y="292.3" font-size="10" fill="#2a2a2a" stroke="#2a2a2a" stroke-width="0.06" font-style="italic" text-anchor="middle">M</text><path d="M713.90,287.70 L717.90,292.10 M717.90,287.70 L713.90,292.10" stroke="#2a2a2a" stroke-width="1"/><text x="720.95" y="292.3" font-size="10" fill="#2a2a2a" stroke="#2a2a2a" stroke-width="0.06" font-style="italic" text-anchor="middle">f</text><path d="M723.00,287.70 L728.10,292.10 M728.10,287.70 L723.00,292.10" stroke="#2a2a2a" stroke-width="1"/><text x="730.55" y="292.3" font-size="10" fill="#2a2a2a" stroke="#2a2a2a" stroke-width="0.06" text-anchor="middle">(</text><text x="735.15" y="292.3" font-size="10" fill="#2a2a2a" stroke="#2a2a2a" stroke-width="0.06" font-style="italic" text-anchor="middle">E</text><text x="737.8" y="295.7" font-size="6.8" fill="#2a2a2a" stroke="#2a2a2a" stroke-width="0.05" textLength="11.10" lengthAdjust="spacingAndGlyphs">ADC</text><text x="752.25" y="292.3" font-size="10" fill="#2a2a2a" stroke="#2a2a2a" stroke-width="0.06" text-anchor="middle">+</text><text x="758.60" y="292.3" font-size="10" fill="#2a2a2a" stroke="#2a2a2a" stroke-width="0.06" font-style="italic" text-anchor="middle">E</text><text x="761.4" y="295.7" font-size="6.8" fill="#2a2a2a" stroke="#2a2a2a" stroke-width="0.05" textLength="11.40" lengthAdjust="spacingAndGlyphs">MAC</text><text x="774.55" y="292.3" font-size="10" fill="#2a2a2a" stroke="#2a2a2a" stroke-width="0.06" text-anchor="middle">)</text>
</svg>
</body></html>
